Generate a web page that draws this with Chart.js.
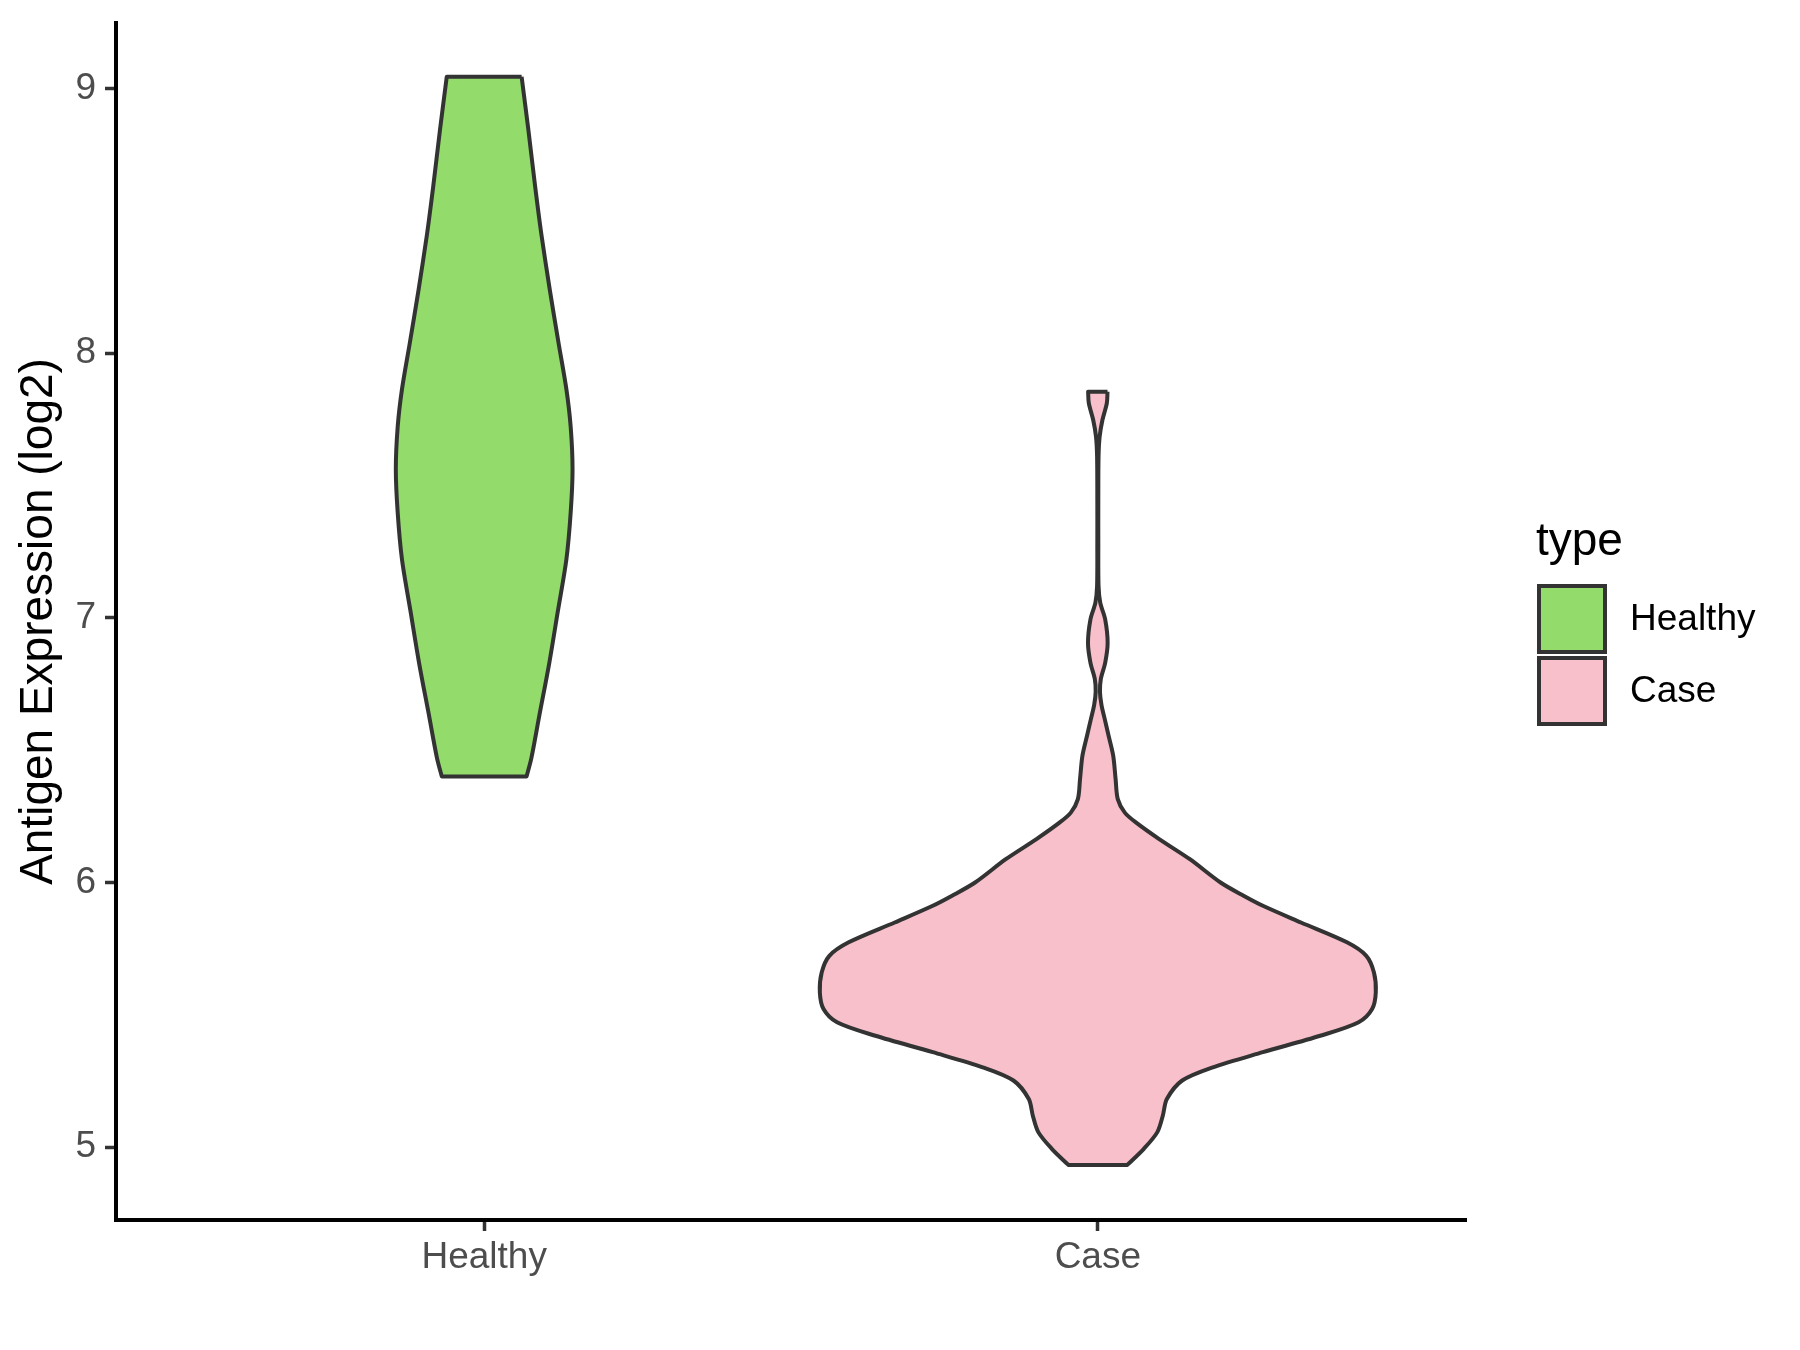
<!DOCTYPE html>
<html>
<head>
<meta charset="utf-8">
<title>Antigen Expression violin</title>
<script src="https://cdn.jsdelivr.net/npm/chart.js@4.4.1/dist/chart.umd.min.js"></script>
<style>
    html, body { margin: 0; padding: 0; background: #fff; }
    #wrap { width: 1800px; height: 1350px; }
</style>
</head>
<body>
<div id="wrap"><canvas id="violinChart" width="1800" height="1350"></canvas></div>
<script>
/* ================================================================
   DATA  (y = log2 expression, w = half width)
   ================================================================ */
const categories = ['Healthy', 'Case'];
const yTicks = [5, 6, 7, 8, 9];

const healthyY = [9.044, 8.844, 8.630, 8.452, 8.238, 8.041, 7.863, 7.720, 7.560, 7.399, 7.221, 7.024, 6.828, 6.632, 6.471, 6.400];
const healthyHalfWidth = [0.061, 0.072, 0.083, 0.093, 0.107, 0.121, 0.134, 0.141, 0.144, 0.141, 0.134, 0.120, 0.106, 0.090, 0.077, 0.069];

const caseY = [7.854, 7.811, 7.748, 7.685, 7.61, 7.45, 7.28, 7.12, 7.056, 6.994, 6.905, 6.83, 6.77, 6.72, 6.67, 6.62, 6.56, 6.48, 6.39,
    6.315, 6.264, 6.226, 6.164, 6.088, 6.0, 5.95, 5.912, 5.849, 5.774, 5.723, 5.66, 5.585, 5.522, 5.472, 5.421, 5.359, 5.302, 5.252,
    5.182, 5.12, 5.057, 4.994, 4.933];
const caseHalfWidth = [0.0158, 0.0147, 0.0076, 0.003, 0.0012, 0.0008, 0.0008, 0.0012, 0.004, 0.012, 0.016, 0.012, 0.005, 0.0035, 0.006, 0.011, 0.017, 0.025, 0.029,
    0.0325, 0.044, 0.0625, 0.1, 0.15, 0.2, 0.2375, 0.269, 0.331, 0.406, 0.4375, 0.45, 0.453, 0.447, 0.425, 0.3625, 0.269, 0.1875, 0.1375,
    0.1125, 0.106, 0.097, 0.075, 0.048];

const fillColors = ['#93DB6B', '#F7C0CB'];
const outline = '#333333';
const fontFamily = "'Liberation Sans', Arial, 'DejaVu Sans', sans-serif";

/* ================================================================
   OUTLINE BUILDER
   ================================================================ */
// right side top->bottom, then left side bottom->top, closed.
// side end points are repeated so the spline keeps the flat caps square
function violinOutline(pos, ys, ws) {
    const right = ys.map((y, i) => ({ x: pos + ws[i], y }));
    const left = ys.map((y, i) => ({ x: pos - ws[i], y })).reverse();
    const pts = [];
    [right, left].forEach(side => {
        pts.push(side[0]);
        side.forEach(p => pts.push(p));
        pts.push(side[side.length - 1]);
    });
    pts.push(right[0]);
    return pts;
}

/* ================================================================
   LEGEND (ggplot style, drawn on the canvas)
   ================================================================ */
const typeLegend = {
    id: 'typeLegend',
    afterDraw(chart) {
        const ctx = chart.ctx;
        ctx.save();
        ctx.fillStyle = '#000';
        ctx.font = `46px ${fontFamily}`;
        ctx.textAlign = 'left';
        ctx.textBaseline = 'alphabetic';
        ctx.fillText('type', 1536, 555);

        const keyTop = [586, 658];
        chart.data.datasets.forEach((ds, i) => {
            ctx.fillStyle = ds.backgroundColor;
            ctx.strokeStyle = outline;
            ctx.lineWidth = 4;
            ctx.fillRect(1539, keyTop[i], 66, 66);
            ctx.strokeRect(1539, keyTop[i], 66, 66);
            ctx.fillStyle = '#000';
            ctx.font = `37px ${fontFamily}`;
            ctx.textBaseline = 'middle';
            ctx.fillText(ds.label, 1630, keyTop[i] + 34);
        });
        ctx.restore();
    }
};

/* ================================================================
   CHART
   ================================================================ */
const datasets = [
    { label: categories[0], data: violinOutline(1, healthyY, healthyHalfWidth), backgroundColor: fillColors[0] },
    { label: categories[1], data: violinOutline(2, caseY, caseHalfWidth), backgroundColor: fillColors[1] }
].map(ds => ({
    ...ds,
    showLine: true,
    fill: 'shape',
    borderColor: outline,
    borderWidth: 4,
    borderJoinStyle: 'round',
    pointRadius: 0,
    pointHoverRadius: 0,
    tension: 0.3
}));

const noEdgePadding = s => { s.paddingTop = 0; s.paddingBottom = 0; s.paddingLeft = 0; s.paddingRight = 0; };

new Chart(document.getElementById('violinChart'), {
    type: 'scatter',
    data: { datasets },
    plugins: [typeLegend],
    options: {
        responsive: false,
        animation: false,
        devicePixelRatio: 1,
        layout: { padding: { left: 0, top: 23, right: 334, bottom: 50 } },
        plugins: { legend: { display: false }, tooltip: { enabled: false } },
        scales: {
            x: {
                type: 'linear',
                min: 0.4,
                max: 2.6,
                afterBuildTicks: s => { s.ticks = categories.map((c, i) => ({ value: i + 1 })); },
                afterFit: s => { s.height = 80; noEdgePadding(s); },
                ticks: {
                    callback: v => categories[v - 1],
                    color: '#4D4D4D',
                    font: { family: fontFamily, size: 37 },
                    padding: 5,
                    maxRotation: 0
                },
                grid: { drawOnChartArea: false, drawTicks: true, tickLength: 11, tickWidth: 3.5, tickColor: '#333333' },
                border: { display: true, color: '#000', width: 4 }
            },
            y: {
                type: 'linear',
                min: 4.725,
                max: 9.247,
                afterBuildTicks: s => { s.ticks = yTicks.map(v => ({ value: v })); },
                afterFit: s => { s.width = 116; noEdgePadding(s); },
                ticks: {
                    color: '#4D4D4D',
                    font: { family: fontFamily, size: 37 },
                    padding: 9
                },
                grid: { drawOnChartArea: false, drawTicks: true, tickLength: 11, tickWidth: 3.5, tickColor: '#333333' },
                border: { display: true, color: '#000', width: 4 },
                title: {
                    display: true,
                    text: 'Antigen Expression (log2)',
                    color: '#000',
                    font: { family: fontFamily, size: 46 },
                    padding: { top: 12, bottom: 0 }
                }
            }
        }
    }
});
</script>
</body>
</html>
